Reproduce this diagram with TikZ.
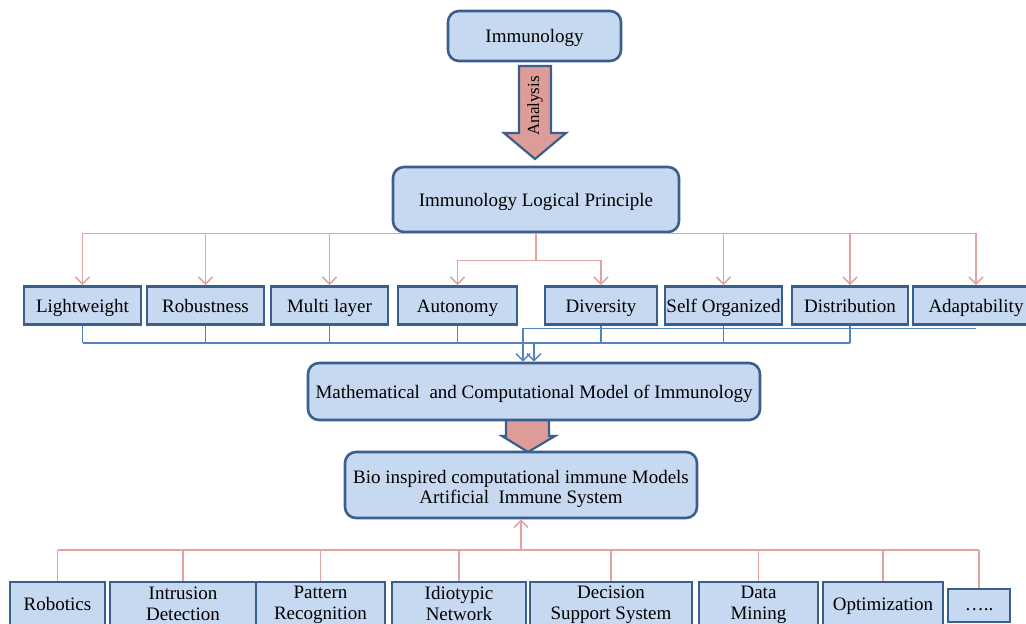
\documentclass[tikz,border=0pt]{standalone}
\usepackage{fontspec}
\setmainfont{Liberation Serif}
\usetikzlibrary{arrows.meta}
\definecolor{boxfill}{HTML}{C6D9F1}
\definecolor{boxline}{HTML}{3B5F8C}
\definecolor{arrowfill}{HTML}{DE9C98}
\definecolor{linepink}{HTML}{E2A3A3}
\definecolor{lineblue}{HTML}{5383BF}
% two-line label; #1 and #2 are the struts above the first and below the last line
\newcommand\twolines[4]{\rule{0pt}{#1pt}#3\\#4\rule[-#2pt]{0pt}{#2pt}}
\begin{document}
\begin{tikzpicture}[x=1pt,y=-1pt,
  every node/.style={font=\fontsize{19}{20}\selectfont, inner sep=0pt, align=center},
  oneline/.style={text height=13pt, text depth=0pt},
  rbox/.style={draw=boxline, fill=boxfill, line width=2.6pt, rounded corners=11pt},
  sbox/.style={draw=boxline, fill=boxfill, line width=2.8pt},
  fatarrow/.style={draw=boxline, fill=arrowfill, line width=2.2pt, line join=miter},
  pinkline/.style={draw=linepink, line width=1.6pt},
  blueline/.style={draw=lineblue, line width=1.5pt},
  tip/.style={-{Straight Barb[length=7pt,width=14pt]}}]
\clip (0,0) rectangle (1026,624);

% block arrows
\draw[fatarrow] (519,66) -- (551,66) -- (551,133) -- (566,133) -- (535,159)
  -- (504,133) -- (519,133) -- cycle;
\node[rotate=90, font=\fontsize{17}{18}\selectfont] (analysis) at (535,106) {Analysis};
\draw[fatarrow] (506,418) -- (549,418) -- (549,436) -- (555,436) -- (528,452)
  -- (502,436) -- (506,436) -- cycle;

% main blocks
\node[rbox, oneline, minimum width=173, minimum height=50] (imm) at (534.5,36) {Immunology};
\node[rbox, oneline, minimum width=286, minimum height=65] (ilp) at (536,199.5) {Immunology Logical Principle};
\node[rbox, oneline, minimum width=452, minimum height=57] (mm) at (534,391.5) {Mathematical\ \ and Computational Model of Immunology};
\node[rbox, minimum width=352, minimum height=66] (bio) at (521,485)
  {\twolines{22}{4.6}{Bio inspired computational immune Models}{Artificial\ \ Immune System}};

% principles
\foreach \n/\x/\w/\t in {lw/82.5/117/Lightweight, rb/205.5/117/Robustness,
    ml/329.5/117/Multi layer, au/457.5/119/Autonomy, di/601/112/Diversity,
    so/723.5/117/Self Organized, ds/850/116/Distribution, ad/976/126/Adaptability}
  \node[sbox, oneline, minimum width=\w, minimum height=38] (\n) at (\x,305.5) {\t};

% applications
\begin{scope}[every node/.append style={font=\fontsize{19}{21}\selectfont}]
\node[sbox, oneline, minimum width=95, minimum height=43] (rob) at (57.5,603.5) {Robotics};
\foreach \n/\x/\w/\a/\b in {ids/183/146/Intrusion/Detection,
    pr/320.5/129/Pattern/Recognition, idn/459/134/Idiotypic/Network,
    dss/611/162/Decision/Support System, dm/758.5/119/Data/Mining}
  \node[sbox, minimum width=\w, minimum height=43] (\n) at (\x,603.5) {\twolines{16}{4}{\a}{\b}};
\node[sbox, oneline, minimum width=120, minimum height=43] (opt) at (883,603.5) {Optimization};
\node[sbox, text height=9pt, text depth=0pt, minimum width=62, minimum height=33] (more) at (979,605.5) {…..};
\end{scope}

% principles fan out from the logical principle
\coordinate (split) at ([yshift=-27pt]ilp.south);
\draw[pinkline] (lw.north |- ilp.south) -- (ad.north |- ilp.south);
\foreach \n in {lw,rb,ml,so,ds,ad}
  \draw[pinkline, tip] (\n.north |- ilp.south) -- (\n.north);
\draw[pinkline] (ilp.south) -- (split);
\draw[pinkline] (au.north |- split) -- (di.north |- split);
\draw[pinkline, tip] (au.north |- split) -- (au.north);
\draw[pinkline, tip] (di.north |- split) -- (di.north);

% principles merge into the model
\coordinate (bluebus) at (0,343);
\foreach \n in {lw,rb,ml,au,di,so,ds}
  \draw[blueline] (\n.south) -- (\n.south |- bluebus);
\draw[blueline] (lw.south |- bluebus) -- (ds.south |- bluebus);
\draw[blueline, tip] (mm.north |- bluebus) -- (mm.north);
\draw[blueline, tip] ([yshift=-2.5pt]ad.south) -| ([xshift=-11pt]mm.north);

% applications feed the immune models
\coordinate (appbus) at (0,550);
\draw[pinkline] (rob.north |- appbus) -- (more.north |- appbus);
\foreach \n in {rob,ids,pr,idn,dss,dm,opt,more}
  \draw[pinkline] (\n.north |- appbus) -- (\n.north);
\draw[pinkline, tip] (bio.south |- appbus) -- (bio.south);
\end{tikzpicture}
\end{document}
